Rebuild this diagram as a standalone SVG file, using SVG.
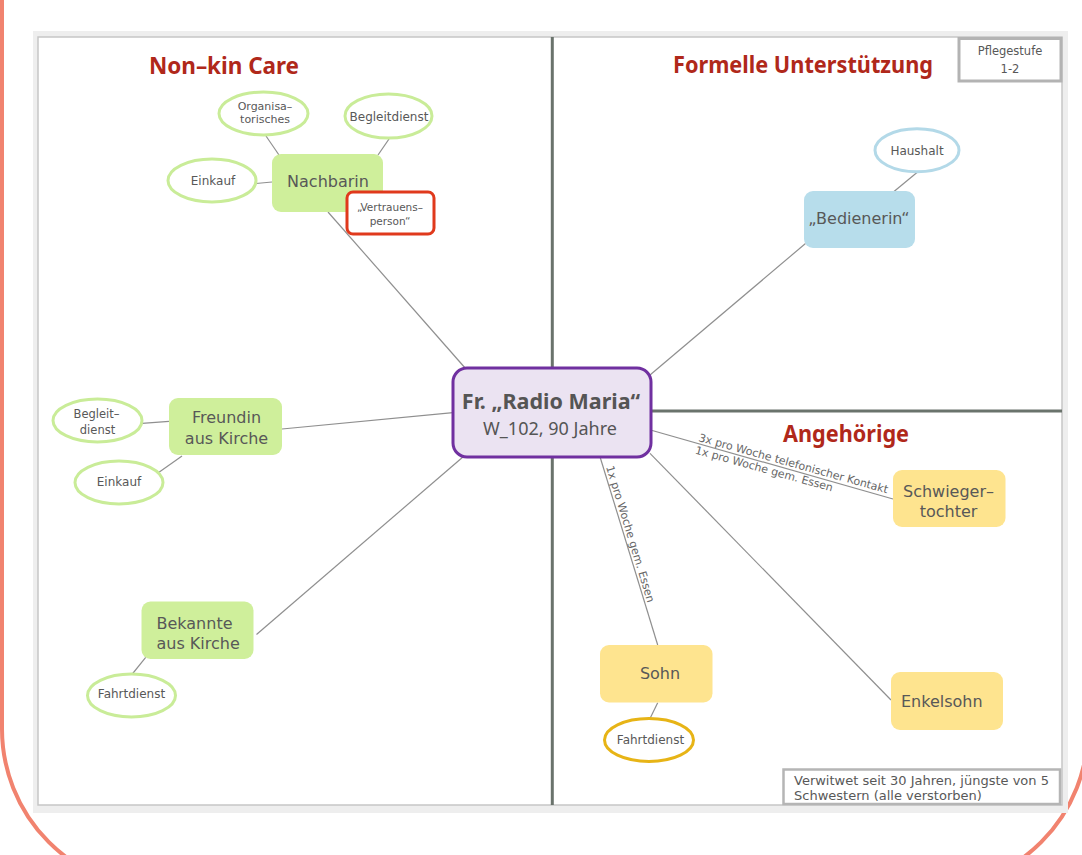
<svg xmlns="http://www.w3.org/2000/svg" width="1082" height="855" viewBox="0 0 1082 855">
<style>
.title{font-family:"Noto Sans","DejaVu Sans",sans-serif;font-weight:bold;font-size:22.5px;fill:#b0281a}
.lb{font-family:"DejaVu Sans","Noto Sans",sans-serif;fill:#585858;text-anchor:middle}
.ls{font-family:"DejaVu Sans","Noto Sans",sans-serif;fill:#585858}
.el{font-family:"DejaVu Sans","Noto Sans",sans-serif;fill:#666;font-size:11px}
.bg{fill:#cfef9b}
.by{fill:#fee48f}
.bb{fill:#b7ddeb}
.eg{fill:#fff;stroke:#c9ec98;stroke-width:3}
.c{stroke:#8f8f8f;stroke-width:1.2;fill:none}
.div{stroke:#6a736c;stroke-width:3}
</style>
<rect x="0" y="0" width="1082" height="855" fill="#fff"/>
<rect x="2" y="-300" width="1086" height="1189" rx="160" fill="none" stroke="#f1836f" stroke-width="4"/>
<rect x="33" y="31" width="1035" height="782" fill="#eeeeee"/>
<rect x="38" y="37" width="1024" height="768" fill="#fff" stroke="#c6c6c6" stroke-width="1.5"/>
<g id="dividers">
<line class="div" x1="552.3" y1="37" x2="552.3" y2="805"/>
<line class="div" x1="552" y1="411" x2="1062" y2="411"/>
</g>
<g id="titles">
<text class="title" x="149" y="74" textLength="150">Non–kin Care</text>
<text class="title" x="673" y="72.5" textLength="260" lengthAdjust="spacingAndGlyphs">Formelle Unterstützung</text>
<text class="title" x="783" y="442" textLength="126" lengthAdjust="spacingAndGlyphs">Angehörige</text>
</g>
<g id="connectors">
<line class="c" x1="266" y1="136" x2="279" y2="155"/>
<line class="c" x1="389" y1="139" x2="378" y2="155"/>
<line class="c" x1="256" y1="183.5" x2="272" y2="182"/>
<line class="c" x1="328" y1="212" x2="466" y2="369"/>
<line class="c" x1="142" y1="423.3" x2="169" y2="421.3"/>
<line class="c" x1="159" y1="472.3" x2="182" y2="456"/>
<line class="c" x1="282" y1="429" x2="453" y2="412.7"/>
<line class="c" x1="256.5" y1="634.5" x2="463.5" y2="456.5"/>
<line class="c" x1="132.7" y1="673.5" x2="145.7" y2="657.3"/>
<line class="c" x1="917.6" y1="172" x2="894" y2="191.5"/>
<line class="c" x1="805.5" y1="243.5" x2="650" y2="375"/>
<line class="c" x1="650.5" y1="430" x2="893" y2="499"/>
<line class="c" x1="650" y1="453.3" x2="891" y2="700"/>
<line class="c" x1="600" y1="456.7" x2="657.7" y2="645"/>
<line class="c" x1="657.7" y1="702.7" x2="650" y2="718.5"/>
<text class="el" transform="translate(698,441) rotate(15.5)">3x pro Woche telefonischer Kontakt</text>
<text class="el" transform="translate(694.5,453.5) rotate(15.5)">1x pro Woche gem. Essen</text>
<text class="el" transform="translate(606,467) rotate(73)">1x pro Woche gem. Essen</text>
</g>
<g id="center">
<rect x="453" y="368" width="198" height="89" rx="14" fill="#ebe3f2" stroke="#7030a0" stroke-width="3"/>
<text x="551" y="409" text-anchor="middle" font-family="Noto Sans, DejaVu Sans, sans-serif" font-weight="bold" font-size="21.5" fill="#555">Fr. „Radio Maria“</text>
<text x="550" y="435" text-anchor="middle" font-family="Noto Sans, DejaVu Sans, sans-serif" font-size="18" fill="#555">W_102, 90 Jahre</text>
</g>
<g id="nachbarin">
<rect class="bg" x="272" y="154" width="111" height="58" rx="9"/>
<text class="lb" x="328" y="187" font-size="16">Nachbarin</text>
</g>
<g id="vertrauensperson">
<rect x="347" y="192" width="87" height="42" rx="6" fill="#fff" stroke="#e0391c" stroke-width="3"/>
<text class="lb" x="390" y="211" font-size="10.5">„Vertrauens–</text>
<text class="lb" x="390" y="224.5" font-size="10.5">person“</text>
</g>
<g id="organisatorisches">
<ellipse class="eg" cx="263.5" cy="113.5" rx="44.5" ry="21.5"/>
<text class="lb" x="265" y="110" font-size="11">Organisa–</text>
<text class="lb" x="265" y="122.5" font-size="11">torisches</text>
</g>
<g id="begleitdienst1">
<ellipse class="eg" cx="388.5" cy="116" rx="43.5" ry="22"/>
<text class="lb" x="389" y="120.5" font-size="12">Begleitdienst</text>
</g>
<g id="einkauf1">
<ellipse class="eg" cx="212" cy="180.5" rx="44" ry="21.5"/>
<text class="lb" x="213" y="184.5" font-size="12">Einkauf</text>
</g>
<g id="freundin">
<rect class="bg" x="169" y="398" width="113" height="57" rx="9"/>
<text class="lb" x="226.5" y="422.5" font-size="16">Freundin</text>
<text class="lb" x="226.5" y="443.5" font-size="16">aus Kirche</text>
</g>
<g id="begleitdienst2">
<ellipse class="eg" cx="97.5" cy="420.5" rx="44.5" ry="21.5"/>
<text class="lb" x="96.5" y="417.5" font-size="11.5">Begleit–</text>
<text class="lb" x="97.5" y="433.5" font-size="11.5">dienst</text>
</g>
<g id="einkauf2">
<ellipse class="eg" cx="119" cy="482.5" rx="44" ry="21.5"/>
<text class="lb" x="119" y="486" font-size="12">Einkauf</text>
</g>
<g id="bekannte">
<rect class="bg" x="141.5" y="601.5" width="112" height="57.5" rx="9"/>
<text class="ls" x="156.5" y="628.5" font-size="16">Bekannte</text>
<text class="ls" x="156.5" y="648.5" font-size="16">aus Kirche</text>
</g>
<g id="fahrtdienst1">
<ellipse class="eg" cx="131.5" cy="695.5" rx="44" ry="21.5"/>
<text class="lb" x="131.5" y="697.5" font-size="12">Fahrtdienst</text>
</g>
<g id="bedienerin">
<rect class="bb" x="804" y="191" width="111" height="57" rx="9"/>
<text class="lb" x="859" y="224" font-size="16">„Bedienerin“</text>
</g>
<g id="haushalt">
<ellipse cx="917" cy="150.3" rx="42" ry="21.5" fill="#fff" stroke="#b3d9e8" stroke-width="3"/>
<text class="lb" x="917" y="154.5" font-size="12">Haushalt</text>
</g>
<g id="pflegestufe">
<rect x="959" y="38.5" width="102" height="42.5" fill="#fff" stroke="#b3b3b3" stroke-width="3"/>
<text class="lb" x="1010" y="55" font-size="11.5">Pflegestufe</text>
<text class="lb" x="1010" y="72.5" font-size="11.5">1-2</text>
</g>
<g id="schwiegertochter">
<rect class="by" x="893" y="470" width="112.5" height="57" rx="9"/>
<text class="lb" x="948.5" y="496.5" font-size="16">Schwieger–</text>
<text class="lb" x="948.5" y="516.5" font-size="16">tochter</text>
</g>
<g id="sohn">
<rect class="by" x="600" y="645" width="112.5" height="57.5" rx="9"/>
<text class="lb" x="660" y="678.5" font-size="16">Sohn</text>
</g>
<g id="fahrtdienst2">
<ellipse cx="649" cy="740" rx="44.5" ry="21.5" fill="#fff" stroke="#e7b416" stroke-width="3"/>
<text class="lb" x="650.5" y="744" font-size="12">Fahrtdienst</text>
</g>
<g id="enkelsohn">
<rect class="by" x="891" y="672" width="112" height="58" rx="9"/>
<text class="ls" x="901" y="706.5" font-size="16">Enkelsohn</text>
</g>
<g id="note">
<rect x="783.5" y="769.5" width="276.5" height="34.5" fill="#fff" stroke="#b5b5b5" stroke-width="2.5"/>
<text class="ls" x="794" y="784.5" font-size="13">Verwitwet seit 30 Jahren, jüngste von 5</text>
<text class="ls" x="794" y="799.5" font-size="13">Schwestern (alle verstorben)</text>
</g>
</svg>
